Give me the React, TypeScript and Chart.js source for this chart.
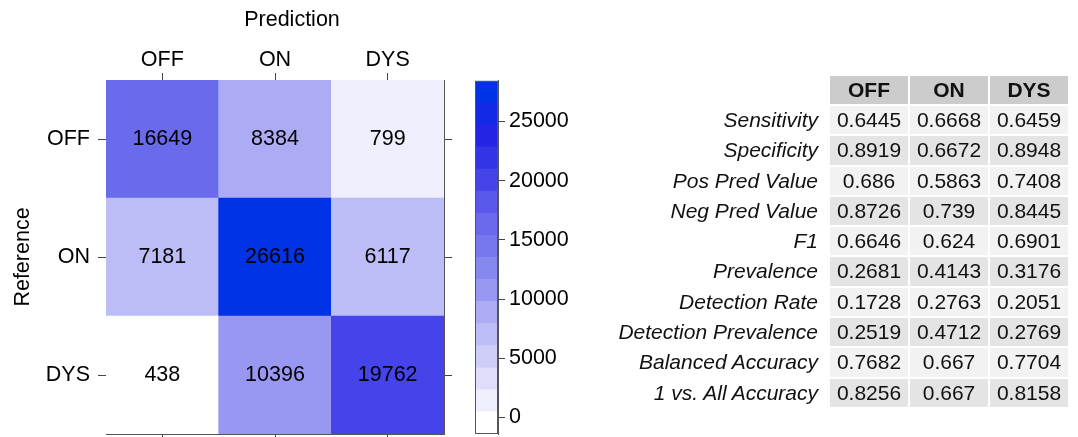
import React, { useEffect, useRef } from 'react';
import { Chart, registerables } from 'chart.js';

Chart.register(...registerables);

// ---- Confusion matrix data ----
const predLabels = ['OFF', 'ON', 'DYS'];
const refLabels = ['OFF', 'ON', 'DYS'];
const refOFF = [16649, 8384, 799];
const refON = [7181, 26616, 6117];
const refDYS = [438, 10396, 19762];

// ---- Colour key ----
const keyBreaks = [-1394.5, 470.6, 2335.8, 4200.9, 6066.0, 7931.2, 9796.3, 11661.4, 13526.6, 15391.7, 17256.8, 19121.9, 20987.1, 22852.2, 24717.3, 26582.5, 28447.6];
const keyColors = ['#ffffff', '#eeeefc', '#dedefa', '#cdcdf8', '#bcbcf6', '#acacf4', '#9898f2', '#8787f0', '#7777ee', '#6a6aed', '#5858ea', '#4444e8', '#3434e7', '#2424e6', '#1329e6', '#0032e6'];
const keyTicks = [0, 5000, 10000, 15000, 20000, 25000];

// ---- Statistics table ----
const metricNames = ['Sensitivity', 'Specificity', 'Pos Pred Value', 'Neg Pred Value', 'F1', 'Prevalence', 'Detection Rate', 'Detection Prevalence', 'Balanced Accuracy', '1 vs. All Accuracy'];
const metricOFF = [0.6445, 0.8919, 0.686, 0.8726, 0.6646, 0.2681, 0.1728, 0.2519, 0.7682, 0.8256];
const metricON = [0.6668, 0.6672, 0.5863, 0.739, 0.624, 0.4143, 0.2763, 0.4712, 0.667, 0.667];
const metricDYS = [0.6459, 0.8948, 0.7408, 0.8445, 0.6901, 0.3176, 0.2051, 0.2769, 0.7704, 0.8158];

const FONT = "'Liberation Sans', Arial, Helvetica, sans-serif";
const FS = 21.5;
const FRAME = '#555555';
const TICKC = '#444444';

function colorFor(v: number): string {
  for (let i = 0; i < keyColors.length; i++) {
    if (v >= keyBreaks[i] && v < keyBreaks[i + 1]) return keyColors[i];
  }
  return keyColors[keyColors.length - 1];
}

const rowTicks = refLabels.map((_, i) => refLabels.length - i - 0.5);
function rowLabel(v: number): string {
  return refLabels[refLabels.length - 1 - Math.floor(v)];
}

const cellLabels = {
  id: 'cellLabels',
  afterDatasetsDraw(chart: any) {
    const ctx = chart.ctx;
    ctx.save();
    ctx.font = `${FS}px ${FONT}`;
    ctx.fillStyle = '#000';
    ctx.textAlign = 'center';
    ctx.textBaseline = 'middle';
    chart.data.datasets.forEach((ds: any, di: number) => {
      const meta = chart.getDatasetMeta(di);
      meta.data.forEach((el: any, i: number) => {
        const p = el.getProps(['x', 'y', 'base'], true);
        ctx.fillText(String(ds.counts[i]), p.x, (p.y + p.base) / 2);
      });
    });
    ctx.restore();
  },
};

const frame = {
  id: 'frame',
  afterDraw(chart: any) {
    const { left, top, right, bottom } = chart.chartArea;
    const ctx = chart.ctx;
    ctx.save();
    ctx.strokeStyle = FRAME;
    ctx.lineWidth = 1;
    ctx.strokeRect(Math.round(left) + 0.5, Math.round(top) + 0.5, Math.round(right - left) - 1, Math.round(bottom - top) - 1);
    ctx.restore();
  },
};

function gridOpts(len: number) {
  return { display: true, drawOnChartArea: false, drawTicks: true, tickLength: len, tickColor: TICKC, tickWidth: 1, offset: false };
}

function fixSize(dim: 'width' | 'height', val: number) {
  return (s: any) => {
    s[dim] = val;
    s.paddingTop = 0;
    s.paddingBottom = 0;
    s.paddingLeft = 0;
    s.paddingRight = 0;
  };
}

export default function App() {
  const heatRef = useRef<HTMLCanvasElement>(null);
  const keyRef = useRef<HTMLCanvasElement>(null);

  useEffect(() => {
    Chart.defaults.font.family = FONT;
    Chart.defaults.font.size = FS;
    Chart.defaults.color = '#000';

    const matrix = [refOFF, refON, refDYS];
    const datasets = matrix
      .map((counts, r) => ({
        label: refLabels[r],
        data: predLabels.map(() => 1),
        counts,
        backgroundColor: counts.map(colorFor),
        borderWidth: 0,
        barPercentage: 1,
        categoryPercentage: 1,
      }))
      .reverse();

    const heat = new Chart(heatRef.current!, {
      type: 'bar',
      data: { labels: predLabels, datasets: datasets as any },
      options: {
        animation: false,
        responsive: false,
        layout: { padding: 0 },
        plugins: { legend: { display: false }, tooltip: { enabled: false } },
        scales: {
          x: {
            type: 'category', position: 'top', labels: predLabels, offset: true, stacked: true,
            grid: gridOpts(7) as any,
            border: { display: true, color: FRAME, width: 1 },
            ticks: { color: '#000', font: { size: FS }, padding: 0, maxRotation: 0, autoSkip: false },
            afterFit: fixSize('height', 80),
          },
          x2: {
            type: 'category', position: 'bottom', labels: predLabels, offset: true,
            grid: gridOpts(7) as any,
            border: { display: true, color: FRAME, width: 1 },
            ticks: { display: false },
            afterFit: fixSize('height', 3),
          },
          y: {
            type: 'linear', position: 'left', min: 0, max: 3, stacked: true,
            afterBuildTicks: (s: any) => { s.ticks = rowTicks.map((v) => ({ value: v })); },
            grid: gridOpts(8) as any,
            border: { display: true, color: FRAME, width: 1 },
            ticks: { color: '#000', font: { size: FS }, padding: 8, callback: (v: any) => rowLabel(Number(v)) },
            title: { display: true, text: 'Reference', color: '#000', font: { size: FS }, padding: { top: 10, bottom: 0 } },
            afterFit: fixSize('width', 106),
          },
          y2: {
            type: 'linear', position: 'right', min: 0, max: 3,
            afterBuildTicks: (s: any) => { s.ticks = rowTicks.map((v) => ({ value: v })); },
            grid: gridOpts(8) as any,
            border: { display: true, color: FRAME, width: 1 },
            ticks: { display: false },
            afterFit: fixSize('width', 16),
          },
        },
      },
      plugins: [cellLabels],
    });

    const keyDatasets = keyColors.map((c, i) => ({
      data: [[keyBreaks[i], keyBreaks[i + 1]]],
      backgroundColor: c,
      borderWidth: 0,
      barPercentage: 1,
      categoryPercentage: 1,
      grouped: false,
    }));

    const key = new Chart(keyRef.current!, {
      type: 'bar',
      data: { labels: [''], datasets: keyDatasets as any },
      options: {
        animation: false,
        responsive: false,
        layout: { padding: { left: 15, top: 80.7, bottom: 3, right: 0 } },
        plugins: { legend: { display: false }, tooltip: { enabled: false } },
        scales: {
          x: { display: false, offset: true },
          y: {
            position: 'right', min: keyBreaks[0], max: keyBreaks[keyBreaks.length - 1],
            afterBuildTicks: (s: any) => { s.ticks = keyTicks.map((v) => ({ value: v })); },
            grid: gridOpts(7) as any,
            border: { display: true, color: FRAME, width: 1 },
            ticks: { color: '#000', font: { size: FS }, padding: 4, callback: (v: any) => String(v) },
            afterFit: fixSize('width', 82),
          },
        },
      },
      plugins: [frame],
    });

    return () => {
      heat.destroy();
      key.destroy();
    };
  }, []);

  const cellBase: React.CSSProperties = { height: '28.3px', padding: 0, lineHeight: '28.3px' };

  return (
    <div style={{ position: 'absolute', left: 0, top: 0, width: 1078, height: 437, background: '#fff', fontFamily: FONT, color: '#111', overflow: 'hidden' }}>
      <canvas ref={heatRef} width={460} height={437} style={{ position: 'absolute', left: 0, top: 0 }} />
      <canvas ref={keyRef} width={120} height={437} style={{ position: 'absolute', left: 460, top: 0 }} />
      <div style={{ position: 'absolute', left: 292, top: 9, transform: 'translateX(-50%)', fontSize: FS, lineHeight: `${FS}px`, whiteSpace: 'nowrap', color: '#000' }}>
        Prediction
      </div>
      <table style={{ position: 'absolute', left: 566, top: 73.7, borderCollapse: 'separate', borderSpacing: 2, fontSize: 21, tableLayout: 'fixed' }}>
        <colgroup>
          <col style={{ width: 260 }} />
          <col style={{ width: 78 }} />
          <col style={{ width: 78 }} />
          <col style={{ width: 78 }} />
        </colgroup>
        <thead>
          <tr>
            <th style={cellBase}></th>
            {predLabels.map((p) => (
              <th key={p} style={{ ...cellBase, background: '#cccccc', fontWeight: 'bold', textAlign: 'center' }}>{p}</th>
            ))}
          </tr>
        </thead>
        <tbody>
          {metricNames.map((name, i) => {
            const bg = i % 2 === 0 ? '#f2f2f2' : '#e4e4e4';
            return (
              <tr key={name}>
                <td style={{ ...cellBase, fontStyle: 'italic', textAlign: 'right', paddingRight: 10, whiteSpace: 'nowrap' }}>{name}</td>
                {[metricOFF[i], metricON[i], metricDYS[i]].map((v, j) => (
                  <td key={j} style={{ ...cellBase, background: bg, textAlign: 'center' }}>{String(v)}</td>
                ))}
              </tr>
            );
          })}
        </tbody>
      </table>
    </div>
  );
}
